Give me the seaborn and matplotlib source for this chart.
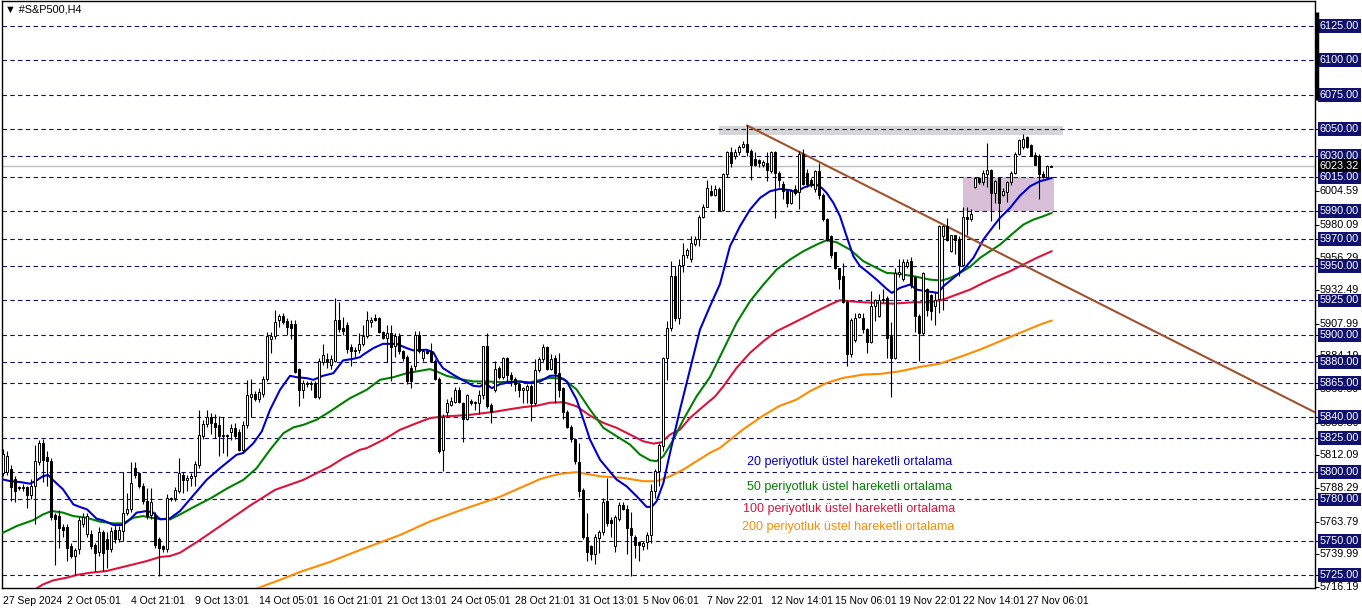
"""S&P500 H4 candlestick chart with EMA 20/50/100/200, MT4 look."""

import matplotlib
matplotlib.use("Agg")
import matplotlib.pyplot as plt
import matplotlib.transforms as mtransforms
from matplotlib.patches import Rectangle
import numpy as np
import seaborn as sns

# ---------------------------------------------------------------------------
# Data (one candle per H4 bar)
# ---------------------------------------------------------------------------

opens = [
    5799, 5800, 5802, 5795, 5789, 5788, 5789, 5783, 5790, 5807,
    5821, 5811, 5808, 5769, 5768, 5760, 5760, 5746, 5739, 5744,
    5762, 5755, 5755, 5747, 5742, 5756, 5751, 5744, 5758, 5751,
    5757, 5770, 5773, 5803, 5799, 5790, 5779, 5769, 5769, 5751,
    5746, 5744, 5780, 5781, 5786, 5798, 5794, 5796, 5797, 5805,
    5826, 5835, 5840, 5836, 5834, 5827, 5826, 5829, 5832, 5829,
    5816, 5834, 5855, 5857, 5853, 5857, 5868, 5897, 5899, 5911,
    5914, 5910, 5908, 5908, 5875, 5860, 5865, 5864, 5865, 5855,
    5880, 5882, 5878, 5881, 5911, 5905, 5907, 5891, 5888, 5889,
    5893, 5899, 5909, 5912, 5912, 5902, 5898, 5901, 5892, 5899,
    5888, 5884, 5876, 5877, 5900, 5883, 5888, 5888, 5881, 5868,
    5816, 5844, 5849, 5851, 5860, 5850, 5839, 5852, 5850, 5850,
    5856, 5892, 5849, 5860, 5876, 5869, 5883, 5871, 5868, 5864,
    5860, 5860, 5863, 5850, 5874, 5882, 5891, 5875, 5883, 5872,
    5861, 5844, 5833, 5824, 5807, 5787, 5753, 5746, 5740, 5752,
    5756, 5779, 5765, 5746, 5766, 5776, 5773, 5759, 5753, 5749,
    5746, 5749, 5754, 5786, 5801, 5819, 5883, 5905, 5943, 5912,
    5951, 5958, 5955, 5966, 5970, 5986, 5993, 6005, 6002, 6006,
    5991, 6017, 6033, 6030, 6033, 6037, 6039, 6034, 6028, 6027,
    6024, 6025, 6019, 6033, 6018, 6010, 6005, 5996, 6006, 6004,
    6032, 6018, 6013, 6006, 6019, 6002, 5984, 5972, 5960, 5949,
    5943, 5924, 5886, 5896, 5913, 5912, 5904, 5895, 5921, 5914,
    5925, 5927, 5899, 5883, 5944, 5941, 5950, 5954, 5942, 5914,
    5901, 5933, 5929, 5921, 5926, 5972, 5979, 5961, 5973, 5970,
    5951, 5986, 5984, 6008, 6014, 6011, 6017, 6020, 6003, 6014,
    6002, 6004, 6011, 6018, 6032, 6037, 6044, 6038, 6031, 6030,
    6017, 6015, 6022.5,
]
highs = [
    5817, 5815, 5805, 5797, 5790, 5791, 5790, 5795, 5820, 5823,
    5824, 5815, 5810, 5770, 5772, 5762, 5762, 5748, 5745, 5767,
    5770, 5770, 5758, 5748, 5760, 5758, 5756, 5760, 5762, 5761,
    5800, 5785, 5807, 5807, 5800, 5792, 5788, 5788, 5771, 5753,
    5747, 5784, 5782, 5789, 5810, 5800, 5798, 5799, 5808, 5845,
    5838, 5845, 5843, 5842, 5841, 5840, 5828, 5835, 5836, 5831,
    5837, 5867, 5868, 5859, 5861, 5870, 5902, 5902, 5918, 5915,
    5916, 5912, 5911, 5911, 5876, 5867, 5866, 5866, 5866, 5883,
    5893, 5887, 5885, 5927, 5924, 5913, 5909, 5893, 5891, 5901,
    5907, 5917, 5913, 5915, 5913, 5903, 5907, 5907, 5901, 5901,
    5889, 5885, 5878, 5903, 5903, 5890, 5889, 5894, 5882, 5869,
    5842, 5853, 5855, 5862, 5862, 5851, 5857, 5853, 5852, 5860,
    5892, 5901, 5850, 5881, 5877, 5884, 5884, 5873, 5869, 5865,
    5862, 5864, 5864, 5882, 5884, 5893, 5892, 5886, 5885, 5887,
    5862, 5845, 5834, 5825, 5821, 5788, 5770, 5747, 5755, 5758,
    5781, 5796, 5767, 5769, 5778, 5778, 5776, 5771, 5754, 5750,
    5750, 5756, 5791, 5802, 5821, 5884, 5910, 5954, 5950, 5955,
    5967, 5963, 5972, 5972, 5987, 5995, 6013, 6009, 6009, 6008,
    6018, 6034, 6037, 6035, 6038, 6041, 6053, 6035, 6033, 6028,
    6027, 6033, 6034, 6034, 6019, 6012, 6006, 6006, 6009, 6034,
    6035, 6021, 6014, 6020, 6025, 6003, 5985, 5973, 5960, 5949,
    5952, 5925, 5912, 5916, 5916, 5916, 5905, 5932, 5926, 5930,
    5933, 5928, 5909, 5949, 5955, 5955, 5955, 5957, 5943, 5915,
    5946, 5934, 5930, 5931, 5980, 5980, 5985, 5973, 5973, 5972,
    5993, 5993, 5992, 6015, 6015, 6020, 6040, 6021, 6013, 6015,
    6007, 6012, 6019, 6033, 6043, 6046, 6045, 6039, 6033, 6032,
    6019, 6024, 6024,
]
lows = [
    5797, 5798, 5779, 5778, 5787, 5786, 5774, 5780, 5762, 5805,
    5793, 5790, 5765, 5732, 5745, 5753, 5735, 5737, 5725, 5740,
    5760, 5753, 5744, 5728, 5739, 5728, 5730, 5742, 5748, 5749,
    5750, 5769, 5771, 5796, 5788, 5777, 5766, 5766, 5745, 5724,
    5742, 5742, 5779, 5779, 5785, 5785, 5786, 5790, 5790, 5803,
    5824, 5833, 5828, 5825, 5812, 5814, 5812, 5823, 5824, 5815,
    5814, 5832, 5840, 5852, 5851, 5855, 5866, 5887, 5897, 5906,
    5908, 5900, 5897, 5872, 5848, 5854, 5862, 5860, 5854, 5853,
    5878, 5876, 5875, 5880, 5902, 5900, 5887, 5877, 5884, 5887,
    5892, 5898, 5906, 5910, 5901, 5897, 5880, 5866, 5884, 5886,
    5881, 5864, 5861, 5874, 5887, 5881, 5886, 5880, 5867, 5814,
    5801, 5841, 5848, 5850, 5850, 5822, 5838, 5849, 5845, 5842,
    5853, 5847, 5836, 5858, 5868, 5868, 5865, 5863, 5859, 5855,
    5850, 5850, 5837, 5849, 5873, 5880, 5874, 5874, 5850, 5855,
    5839, 5832, 5822, 5806, 5782, 5751, 5735, 5736, 5733, 5741,
    5754, 5761, 5753, 5742, 5764, 5772, 5740, 5724, 5737, 5735,
    5743, 5744, 5748, 5781, 5790, 5815, 5867, 5903, 5910, 5908,
    5946, 5956, 5953, 5965, 5965, 5985, 5993, 6001, 6001, 5990,
    5990, 6015, 6022, 6028, 6031, 6036, 6030, 6013, 6023, 6022,
    6022, 6012, 6018, 5985, 6008, 5999, 5993, 5995, 6002, 5992,
    6009, 6008, 6008, 6004, 5999, 5983, 5968, 5956, 5948, 5933,
    5923, 5877, 5884, 5895, 5912, 5901, 5887, 5894, 5910, 5913,
    5924, 5883, 5855, 5882, 5942, 5939, 5949, 5934, 5902, 5881,
    5900, 5914, 5911, 5907, 5916, 5918, 5968, 5960, 5959, 5943,
    5950, 5973, 5983, 6007, 6010, 6009, 6008, 5983, 5996, 5977,
    6001, 5997, 6009, 6017, 6031, 6035, 6036, 6030, 6024, 5999,
    6014, 6014, 6022.5,
]
closes = [
    5813, 5812, 5789, 5786, 5788, 5789, 5783, 5790, 5808, 5821,
    5809, 5808, 5767, 5766, 5759, 5758, 5745, 5739, 5743, 5765,
    5767, 5768, 5746, 5741, 5756, 5741, 5744, 5757, 5751, 5758,
    5770, 5773, 5792, 5798, 5790, 5779, 5768, 5778, 5747, 5745,
    5744, 5781, 5781, 5787, 5799, 5794, 5796, 5797, 5806, 5827,
    5835, 5840, 5836, 5833, 5826, 5826, 5827, 5832, 5826, 5816,
    5834, 5856, 5857, 5853, 5858, 5868, 5899, 5899, 5909, 5914,
    5909, 5906, 5905, 5873, 5860, 5865, 5864, 5865, 5855, 5881,
    5885, 5880, 5882, 5911, 5904, 5903, 5890, 5888, 5889, 5893,
    5899, 5911, 5911, 5911, 5902, 5898, 5901, 5891, 5899, 5888,
    5883, 5866, 5866, 5900, 5888, 5888, 5887, 5881, 5868, 5815,
    5840, 5850, 5852, 5860, 5851, 5839, 5856, 5850, 5851, 5856,
    5892, 5848, 5844, 5875, 5869, 5883, 5871, 5868, 5864, 5860,
    5861, 5863, 5850, 5874, 5882, 5891, 5875, 5882, 5872, 5860,
    5844, 5833, 5824, 5808, 5786, 5753, 5742, 5740, 5753, 5756,
    5778, 5763, 5763, 5767, 5776, 5773, 5759, 5754, 5747, 5747,
    5748, 5754, 5786, 5801, 5820, 5883, 5905, 5943, 5912, 5951,
    5958, 5962, 5967, 5970, 5986, 5993, 6007, 6002, 6006, 5991,
    6017, 6033, 6025, 6033, 6037, 6039, 6033, 6024, 6024, 6025,
    6026, 6020, 6033, 6018, 6013, 6005, 5996, 6005, 6003, 6032,
    6010, 6010, 6009, 6019, 6002, 5984, 5969, 5958, 5949, 5941,
    5924, 5886, 5911, 5912, 5915, 5904, 5895, 5921, 5925, 5925,
    5926, 5898, 5883, 5945, 5946, 5953, 5953, 5936, 5914, 5901,
    5945, 5918, 5917, 5925, 5979, 5979, 5969, 5973, 5969, 5951,
    5986, 5984, 5988, 6014, 6011, 6018, 6020, 6003, 6012, 5996,
    6005, 6011, 6018, 6032, 6042, 6043, 6037, 6030, 6024, 6017,
    6015, 6023, 6023.32,
]

# EMA curves, sampled along the bar axis
ema20_bars = [0, 1.75, 4.25, 6.75, 8.4, 10, 11.3, 12.6, 15, 17.6, 19.25, 21, 23.4, 25,
              27.6, 30, 31.75, 33.4, 35.9, 37.6, 39.25, 41.75, 44.25, 47, 50.9, 54.25,
              58.4, 60, 62.6, 64.7, 66.75, 69.25, 71.75, 73.4, 75.9, 77.6, 80, 82.6, 85,
              87.6, 89.25, 90, 92.6, 95, 98.4, 100.9, 102.6, 105.9, 107.6, 108.8, 110,
              112.6, 115.1, 117.6, 119.25, 120.5, 122.2, 124.25, 126.75, 129.25, 131.75,
              134.25, 136.75, 138.4, 140.9, 143.4, 145.1, 146.75, 149.25, 151.3, 153.4,
              155.9, 158.4, 160.9, 162.2, 163.4, 165.1, 166.75, 169.25, 171.75, 174.25,
              176.75, 179.25, 181.75, 184.25, 186.75, 189.25, 191.75, 194.25, 196.75,
              198.4, 200, 201.75, 203.4, 204.7, 205.9, 207.6, 209.25, 210.9, 212.6,
              214.25, 215.9, 218.4, 220.9, 222.2, 224.25, 226.75, 228.4, 230.9, 233.8,
              235.1, 237.6, 240.1, 242.6, 245.1, 247.6, 249.25, 251.75, 254.25, 256.75,
              259.25, 260.9, 262.2]
ema20_vals = [5794.6, 5793.4, 5792.7, 5791.5, 5793.9, 5797.0, 5797.8, 5793.9, 5787.4,
              5776.4, 5774.5, 5772.8, 5766.0, 5764.8, 5761.4, 5761.4, 5765.5, 5770.4,
              5771.6, 5770.4, 5765.5, 5766.2, 5771.6, 5781.0, 5794.3, 5802.8, 5812.6,
              5813.8, 5821.0, 5829.6, 5845.3, 5859.9, 5870.1, 5869.1, 5868.4, 5867.2,
              5870.1, 5872.0, 5881.3, 5882.5, 5883.7, 5885.4, 5890.3, 5893.4, 5893.4,
              5890.3, 5888.6, 5889.1, 5887.1, 5880.6, 5875.7, 5870.8, 5866.7, 5862.8,
              5862.3, 5864.8, 5861.1, 5864.0, 5865.5, 5866.0, 5864.8, 5866.0, 5870.1,
              5870.3, 5866.2, 5852.8, 5838.2, 5823.6, 5809.0, 5801.8, 5794.5, 5789.6,
              5782.4, 5774.6, 5774.6, 5778.7, 5792.1, 5813.9, 5845.5, 5874.7, 5903.8,
              5920.8, 5937.0, 5964.5, 5979.1, 5991.2, 5999.7, 6004.6, 6006.3, 6005.3,
              6003.9, 6007.0, 6009.0, 6009.4, 6007.0, 6003.4, 5996.1, 5986.4, 5971.8,
              5957.2, 5950.0, 5946.3, 5940.2, 5933.5, 5930.5, 5934.2, 5936.6, 5932.9,
              5931.7, 5930.5, 5935.4, 5941.4, 5947.5, 5956.0, 5969.4, 5979.1, 5985.2,
              5992.4, 6001.4, 6008.2, 6011.9, 6013.1, 6014.3]

ema50_bars = [0, 3.4, 7.6, 10, 12.2, 15, 17.6, 20.9, 24.25, 27.6, 30, 32.6, 35, 38.4,
              41.75, 44.25, 48, 52, 56, 60.1, 63.4, 66.75, 70.1, 72.6, 75.1, 78.4, 81.75,
              84.25, 86.75, 90.9, 94.25, 97.6, 100.9, 103.4, 106.75, 108.4, 110.9, 114.25,
              117.6, 121, 124.25, 128.4, 131.75, 135.1, 136.75, 140.1, 143.4, 146.75,
              150.1, 153.4, 156.75, 159.25, 161.75, 163.4, 165.1, 167.6, 170.1, 173.4,
              176.75, 180.1, 183.4, 186.75, 190.1, 193.4, 196.75, 200.1, 203.4, 205.9,
              208.4, 211.75, 215.1, 218.4, 220.9, 223.4, 227.6, 231.75, 234.7, 236.75,
              239.25, 241.75, 244.25, 246.75, 249.25, 252.6, 255.1, 257.6, 260.1, 262.2]
ema50_vals = [5755.8, 5760.6, 5765.0, 5769.1, 5771.6, 5770.4, 5767.9, 5766.7, 5763.8,
              5762.6, 5762.6, 5766.7, 5767.9, 5766.0, 5765.5, 5769.1, 5775.0, 5781.0,
              5788.0, 5794.3, 5802.8, 5816.2, 5828.3, 5832.5, 5834.4, 5838.1, 5844.1,
              5849.0, 5853.8, 5859.9, 5867.2, 5869.1, 5872.0, 5873.3, 5875.0, 5873.3,
              5870.1, 5867.7, 5866.0, 5866.0, 5865.5, 5866.0, 5865.3, 5867.7, 5868.6,
              5867.9, 5860.1, 5845.5, 5832.2, 5826.1, 5820.0, 5812.7, 5808.6, 5807.9,
              5811.5, 5823.6, 5838.2, 5855.2, 5869.2, 5889.2, 5908.7, 5924.4, 5936.6,
              5947.5, 5954.8, 5960.9, 5965.7, 5968.9, 5967.4, 5962.1, 5953.6, 5948.7,
              5945.1, 5944.6, 5942.7, 5940.2, 5939.5, 5941.4, 5945.1, 5949.5, 5956.0,
              5960.9, 5965.7, 5974.2, 5980.3, 5983.9, 5986.4, 5988.8]

ema100_bars = [0, 7.6, 10, 12.6, 15.9, 18.4, 21.75, 25.9, 29.25, 32.6, 35.9, 39.25, 41.75,
               44.25, 49, 55, 62, 68, 75.1, 78.4, 81.75, 85.1, 89.25, 90.9, 95.1, 99.25,
               103.4, 106.75, 110.1, 113.4, 116.75, 120.1, 123.4, 126.75, 130.1, 133.4,
               136.75, 140.1, 143.4, 146.75, 150.1, 153.4, 156.75, 160.1, 162.6, 164.7,
               166.75, 169.25, 171.75, 175.1, 178, 180.1, 183.4, 186.75, 190.1, 193.4,
               196.75, 200.1, 203.4, 206.75, 209.25, 211.75, 215.1, 218.4, 222.6, 227.6,
               231.75, 235.1, 238.4, 241.75, 245.1, 248.4, 251.75, 255.1, 258.4, 262.2]
ema100_vals = [5703.0, 5713.8, 5718.1, 5721.1, 5723.0, 5725.0, 5726.6, 5727.9, 5730.3,
               5732.7, 5735.1, 5738.1, 5738.8, 5741.2, 5750.0, 5762.0, 5776.0, 5787.0,
               5794.3, 5799.2, 5804.0, 5810.1, 5816.2, 5817.4, 5823.5, 5830.8, 5835.6,
               5839.3, 5840.5, 5841.0, 5841.7, 5842.9, 5844.1, 5845.8, 5847.3, 5848.3,
               5850.5, 5850.9, 5847.9, 5841.1, 5835.8, 5832.2, 5827.3, 5822.4, 5820.7,
               5821.7, 5827.3, 5830.9, 5839.4, 5847.9, 5855.0, 5862.5, 5875.9, 5886.8,
               5895.3, 5902.6, 5907.4, 5912.3, 5917.2, 5922.0, 5925.2, 5924.4, 5923.7,
               5923.2, 5922.7, 5923.7, 5923.7, 5925.7, 5929.3, 5932.9, 5937.8, 5942.2,
               5946.3, 5951.2, 5956.0, 5960.9]

ema200_bars = [60, 63.75, 69.25, 74.25, 81.75, 89.25, 99.25, 106.75, 114.25, 124.25,
               134.25, 136.75, 139.25, 143.4, 149.25, 155.1, 160.1, 163.4, 166.75, 170.1,
               173.4, 176.75, 179.25, 185, 190, 194, 198.4, 201.75, 205.9, 210.1, 215.1,
               219.25, 224.25, 229.25, 234.25, 239.25, 244.25, 249.25, 254.25, 259.25,
               262.2]
ema200_vals = [5711.0, 5715.5, 5721.4, 5727.2, 5734.5, 5743.2, 5754.1, 5764.0, 5772.0,
               5782.0, 5794.8, 5796.9, 5798.7, 5799.9, 5796.9, 5795.7, 5793.3, 5793.3,
               5796.9, 5801.8, 5807.9, 5814.0, 5817.6, 5831.0, 5841.0, 5848.0, 5852.8,
               5858.9, 5864.9, 5868.6, 5871.0, 5871.5, 5873.4, 5876.6, 5879.0, 5883.9,
               5889.2, 5895.3, 5901.4, 5907.4, 5910.4]

# manual drawing objects
trend_bars = [186, 328]
trend_prices = [6052.5, 5843.5]
resist_zone = (179, 265, 6045.8, 6052.4)     # bar from, bar to, low, high
support_box = (240, 262.75, 5990.5, 6015.0)

level_prices = [6125, 6100, 6075, 6050, 6030, 6015, 5990, 5970, 5950, 5925, 5900,
                5880, 5865, 5840, 5825, 5800, 5780, 5750, 5725]
scale_prices = [6004.59, 5980.09, 5956.29, 5932.49, 5907.99, 5884.19, 5860.39,
                5835.89, 5812.09, 5788.29, 5763.79, 5739.99, 5716.19]
last_price = 6023.32

date_ticks = list(range(0, 257, 16))
date_labels = ["27 Sep 2024", "2 Oct 05:01", "4 Oct 21:01", "9 Oct 13:01",
               "14 Oct 05:01", "16 Oct 21:01", "21 Oct 13:01", "24 Oct 05:01",
               "28 Oct 21:01", "31 Oct 13:01", "5 Nov 06:01", "7 Nov 22:01",
               "12 Nov 14:01", "15 Nov 06:01", "19 Nov 22:01", "22 Nov 14:01",
               "27 Nov 06:01"]

ema_labels = ["20 periyotluk üstel hareketli ortalama",
              "50 periyotluk üstel hareketli ortalama",
              "100 periyotluk üstel hareketli ortalama",
              "200 periyotluk üstel hareketli ortalama"]

# ---------------------------------------------------------------------------
# Style
# ---------------------------------------------------------------------------

NAVY = "#10106e"
C_EMA20 = "#0000d0"
C_EMA50 = "#008000"
C_EMA100 = "#dc143c"
C_EMA200 = "#ff8c00"
C_TREND = "#a0522d"

sns.set_style("white")
plt.rcParams["font.family"] = ["Liberation Sans", "DejaVu Sans"]
plt.rcParams["font.size"] = 7.5

W, H = 1362, 611
fig = plt.figure(figsize=(W / 100, H / 100), dpi=100, facecolor="white")
ax = fig.add_axes([2 / W, 23 / H, 1313 / W, 587 / H])
ax.set_facecolor("white")

# zones
ax.add_patch(Rectangle((resist_zone[0], resist_zone[2]), resist_zone[1] - resist_zone[0],
                       resist_zone[3] - resist_zone[2], facecolor="#d6d6d6",
                       edgecolor="none", zorder=0.5))
ax.add_patch(Rectangle((support_box[0], support_box[2]), support_box[1] - support_box[0],
                       support_box[3] - support_box[2], facecolor="#d8bfd8",
                       edgecolor="none", zorder=0.5))

# horizontal levels
for lv in level_prices:
    ax.axhline(lv, color=NAVY, lw=0.8, linestyle=(0, (4, 3)), zorder=1)
ax.axhline(last_price, color="#c0c0c0", lw=1.0, zorder=1)

# EMAs
for bars, vals, col in [(ema200_bars, ema200_vals, C_EMA200),
                        (ema100_bars, ema100_vals, C_EMA100),
                        (ema50_bars, ema50_vals, C_EMA50),
                        (ema20_bars, ema20_vals, C_EMA20)]:
    sns.lineplot(x=bars, y=vals, ax=ax, color=col, linewidth=1.5,
                 estimator=None, sort=False, zorder=3)

# trend line
sns.lineplot(x=trend_bars, y=trend_prices, ax=ax, color=C_TREND, linewidth=1.5,
             estimator=None, sort=False, zorder=3.5)

# candles
o = np.array(opens, dtype=float)
c = np.array(closes, dtype=float)
hi = np.maximum.reduce([np.array(highs, dtype=float), o, c])
lo = np.minimum.reduce([np.array(lows, dtype=float), o, c])
xb = np.arange(len(c))
ax.vlines(xb, lo, hi, color="black", linewidth=0.8, zorder=4)
body = np.maximum(np.abs(c - o), 0.5)
ax.bar(xb, body, bottom=np.minimum(o, c), width=0.55,
       color=np.where(c >= o, "white", "black"), edgecolor="black",
       linewidth=0.7, zorder=5)

ax.set_xlim(-0.25, 328)
ax.set_ylim(5715.5, 6143.2)

# frame
for side in ["left", "right", "top", "bottom"]:
    ax.spines[side].set_color("black")
    ax.spines[side].set_linewidth(1.0)

# x axis
ax.set_xticks(date_ticks)
ax.set_xticklabels(date_labels, ha="left", fontsize=7.5)
ax.tick_params(axis="x", direction="out", length=4, width=0.8, pad=2, colors="black")
ax.set_xlabel("")
ax.set_ylabel("")

# y axis (right side price scale)
ax.yaxis.tick_right()
ax.set_yticks(level_prices + scale_prices)
ax.set_yticklabels([])
ax.tick_params(axis="y", direction="out", length=3, width=0.8, colors="black")

trans = mtransforms.blended_transform_factory(ax.transAxes, ax.transData)
lab_x = 1 + 5 / 1313
for p in scale_prices:
    ax.text(lab_x, p, f"{p:.2f}", transform=trans, ha="left", va="center",
            fontsize=7.8, color="black", clip_on=False, zorder=10)
for p in level_prices:
    ax.text(lab_x, p, f"{p:.2f}", transform=trans, ha="left", va="center",
            fontsize=7.8, color="white", clip_on=False, zorder=11,
            bbox=dict(boxstyle="square,pad=0.18", fc=NAVY, ec="none"))
ax.text(lab_x, last_price, f"{last_price:.2f}", transform=trans, ha="left",
        va="center", fontsize=7.8, color="white", clip_on=False, zorder=12,
        bbox=dict(boxstyle="square,pad=0.18", fc="black", ec="none"))

# chart-shift marker on the price scale
ax.plot([1 + 1.5 / 1313] * 2, [6135.2, 6071.1], transform=trans, color="black",
        lw=2.5, clip_on=False, solid_capstyle="butt", zorder=12)

# symbol caption
ax.text(3 / 1313, 1 - 9 / 587, "▼ #S&P500,H4", transform=ax.transAxes,
        ha="left", va="center", fontsize=7.8, color="black", zorder=12)

# EMA legend
for txt, col, px, py in zip(ema_labels, [C_EMA20, C_EMA50, C_EMA100, C_EMA200],
                            [747, 747, 743, 742], [462, 487, 509, 527]):
    ax.text((px - 2) / 1313, 1 - (py - 1) / 587, txt, transform=ax.transAxes,
            ha="left", va="center", fontsize=9, color=col, zorder=12)

fig.savefig("out.png", dpi=100, facecolor="white")
